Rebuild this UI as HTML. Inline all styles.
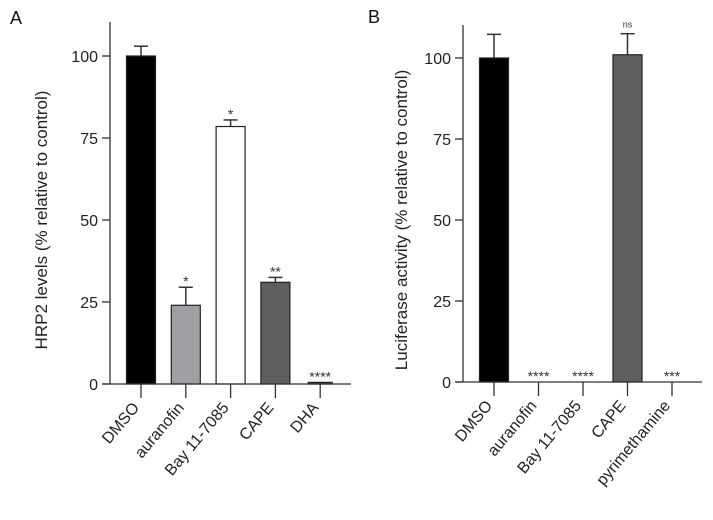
<!DOCTYPE html>
<html><head><meta charset="utf-8"><style>
body{margin:0;background:#fff}
svg{display:block;font-family:"Liberation Sans",Arial,sans-serif}
</style></head><body>
<svg id="c" width="713" height="520"></svg>
<script>
const catsA=["DMSO","auranofin","Bay 11-7085","CAPE","DHA"];
const valsA=[100,24,78.5,31,0.5];
const errA=[3,5.5,2,1.5,0];
const starsA=["","*","*","**","****"];
const fillsA=["#000","#a0a0a4","#fff","#5f5f5f","#444"];
const catsB=["DMSO","auranofin","Bay 11-7085","CAPE","pyrimethamine"];
const valsB=[100,0,0,101,0];
const errB=[7.3,0,0,6.5,0];
const starsB=["","****","****","ns","***"];
const fillsB=["#000","#000","#000","#5f5f5f","#000"];
const ticks=[0,25,50,75,100];
const NS="http://www.w3.org/2000/svg";
const svg=document.getElementById('c');
function mk(t,a,p){const e=document.createElementNS(NS,t);for(const k in a)e.setAttribute(k,a[k]);(p||svg).appendChild(e);return e;}
function panel(cfg){
  const g=mk('g',{});
  
  
  const y=v=>cfg.y0-(cfg.y0-cfg.y100)*v/100;
  const x=i=>cfg.x1+i*cfg.step;
  const l=mk('text',{x:cfg.lx,y:cfg.ly,'font-size':18,fill:'#111'},g);l.textContent=cfg.letter;
  
  const yt=mk('text',{x:0,y:0,'font-size':17,fill:'#222','text-anchor':'middle',transform:`translate(${cfg.tx},${(cfg.y0+cfg.y100)/2}) rotate(-90)`},g);
  yt.textContent=cfg.ytitle;
  
  cfg.vals.forEach((v,i)=>{
    const cx=x(i);
    if(v>0){
      if(cfg.err[i]>0){mk('line',{x1:cx,x2:cx,y1:y(v),y2:y(v+cfg.err[i]),stroke:'#333','stroke-width':1.5},g);
        mk('line',{x1:cx-7,x2:cx+7,y1:y(v+cfg.err[i]),y2:y(v+cfg.err[i]),stroke:'#333','stroke-width':1.5},g);}
      const wid=v<2?24:29;
      const b=mk('rect',{x:cx-wid/2,y:y(v),width:wid,height:y(0)-y(v),fill:cfg.fills[i],stroke:'#222','stroke-width':1.2},g);
      
      
    }
    if(cfg.stars[i]){
      const top=v+cfg.err[i];
      const ns=cfg.stars[i]=="ns";
      const by=ns?y(top)-6:y(top)-1;
      const s=mk('text',{x:cx,y:by,'font-size':ns?9:14,'text-anchor':'middle',fill:'#333'},g);
      s.textContent=cfg.stars[i];
      
    }
    mk('line',{x1:cx,x2:cx,y1:cfg.y0,y2:cfg.y0+14,stroke:'#333','stroke-width':1.3},g);
    const t=mk('text',{x:0,y:0,'font-size':16,'text-anchor':'end',fill:'#222',transform:`translate(${cx-1},${cfg.y0+24}) rotate(-50)`},g);
    t.textContent=cfg.cats[i];
    
  });
  mk('line',{x1:cfg.ax,x2:cfg.ax,y1:cfg.ytop,y2:cfg.y0,stroke:'#333','stroke-width':1.3},g);
  mk('line',{x1:cfg.ax-8,x2:cfg.xend,y1:cfg.y0,y2:cfg.y0,stroke:'#333','stroke-width':1.3},g);
  ticks.forEach(tv=>{
    mk('line',{x1:cfg.ax-8,x2:cfg.ax,y1:y(tv),y2:y(tv),stroke:'#333','stroke-width':1.3},g);
    const t=mk('text',{x:cfg.ax-12,y:y(tv)+6,'font-size':16,'text-anchor':'end',fill:'#222'},g);
    t.textContent=tv;
    
  });
}
panel({name:'panel-a',letter:'A',lx:10,ly:24,ytitle:'HRP2 levels (% relative to control)',tx:47,
  cats:catsA,vals:valsA,err:errA,stars:starsA,fills:fillsA,ax:110,ytop:22,y0:384,y100:56,x1:141,step:44.8,xend:351});
panel({name:'panel-b',letter:'B',lx:368,ly:23,ytitle:'Luciferase activity (% relative to control)',tx:407,
  cats:catsB,vals:valsB,err:errB,stars:starsB,fills:fillsB,ax:463,ytop:25,y0:382,y100:58,x1:494,step:44.5,xend:702});
</script>
</body></html>
